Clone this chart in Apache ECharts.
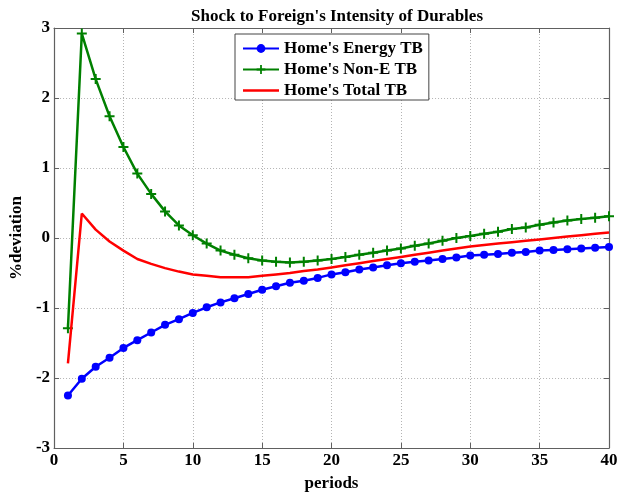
<!DOCTYPE html>
<html>
<head>
<meta charset="utf-8">
<script src="https://cdn.jsdelivr.net/npm/echarts@6/dist/echarts.min.js"></script>
<style>
  html, body { margin: 0; padding: 0; background: #fff; }
  #chart { width: 625px; height: 497px; }
</style>
</head>
<body>
<div id="chart"></div>
<script>
// Impulse responses, periods 1..40
const periods = Array.from({ length: 40 }, (_, i) => i + 1);

const energyTB = [
  -2.25, -2.01, -1.84, -1.71, -1.57, -1.46, -1.35, -1.24, -1.16, -1.07,
  -0.99, -0.92, -0.86, -0.80, -0.74, -0.69, -0.64, -0.61, -0.57, -0.52,
  -0.49, -0.45, -0.42, -0.39, -0.36, -0.34, -0.32, -0.30, -0.28, -0.25,
  -0.24, -0.23, -0.21, -0.20, -0.18, -0.17, -0.16, -0.15, -0.14, -0.13
];

const nonEnergyTB = [
  -1.29, 2.92, 2.27, 1.74, 1.30, 0.92, 0.63, 0.38, 0.18, 0.04,
  -0.08, -0.18, -0.24, -0.29, -0.32, -0.34, -0.35, -0.34, -0.32, -0.30,
  -0.27, -0.24, -0.21, -0.18, -0.15, -0.11, -0.08, -0.04, 0.00, 0.03,
  0.06, 0.09, 0.13, 0.15, 0.19, 0.22, 0.25, 0.27, 0.29, 0.31
];

const totalTB = [
  -1.79, 0.35, 0.12, -0.05, -0.18, -0.30, -0.37, -0.43, -0.48, -0.52,
  -0.54, -0.56, -0.56, -0.56, -0.54, -0.52, -0.50, -0.47, -0.45, -0.42,
  -0.39, -0.36, -0.33, -0.30, -0.27, -0.24, -0.21, -0.18, -0.15, -0.12,
  -0.10, -0.08, -0.06, -0.04, -0.02, 0.00, 0.02, 0.04, 0.06, 0.08
];

const seriesNames = ["Home's Energy TB", "Home's Non-E TB", "Home's Total TB"];

const serif = 'Liberation Serif, Times New Roman, serif';
// plus-shaped marker
const plusPath = 'path://M4,0H6V4H10V6H6V10H4V6H0V4H4Z';
// plain line legend icon (thin slivers at top/bottom keep the band centred)
const lineIcon = 'path://M0,0H36V0.01H0Z M0,4.3H36V6.7H0Z M0,10.99H36V11H0Z';

const pairs = vals => periods.map((p, i) => [p, vals[i]]);

const gridLine = { show: true, lineStyle: { color: '#b4b4b4', type: [1, 2], width: 1 } };
const axisLineStyle = { show: true, onZero: false, lineStyle: { color: '#606060', width: 1.2 } };
const tickStyle = { show: true, inside: true, length: 5, lineStyle: { color: '#606060' } };
const labelFont = { fontFamily: serif, fontWeight: 'bold', fontSize: 17, color: '#000' };

const chart = echarts.init(document.getElementById('chart'), null, { renderer: 'canvas' });

chart.setOption({
  backgroundColor: '#fff',
  animation: false,
  title: {
    text: "Shock to Foreign's Intensity of Durables",
    left: 332, top: 3, textAlign: 'center',
    textStyle: { fontFamily: serif, fontWeight: 'bold', fontSize: 17, color: '#000' }
  },
  legend: {
    data: [
      { name: seriesNames[0] },
      { name: seriesNames[1] },
      { name: seriesNames[2], icon: lineIcon }
    ],
    orient: 'vertical',
    left: 235, top: 34,
    padding: [6, 6, 1, 7],
    itemGap: 4,
    itemWidth: 36, itemHeight: 11,
    backgroundColor: '#fff',
    borderColor: '#444', borderWidth: 1,
    textStyle: { fontFamily: serif, fontWeight: 'bold', fontSize: 17, color: '#000', padding: [0, 0, 0, 0] }
  },
  grid: { left: 54, right: 16, top: 28, bottom: 46 },
  xAxis: [
    {
      type: 'value', min: 0, max: 40, interval: 5, position: 'bottom',
      name: 'periods', nameLocation: 'middle', nameGap: 27,
      nameTextStyle: labelFont,
      axisLine: axisLineStyle,
      axisTick: tickStyle,
      axisLabel: Object.assign({ margin: 4 }, labelFont),
      splitLine: gridLine
    },
    {
      type: 'value', min: 0, max: 40, interval: 5, position: 'top',
      axisLine: axisLineStyle,
      axisTick: tickStyle,
      axisLabel: { show: false },
      splitLine: { show: false }
    }
  ],
  yAxis: [
    {
      type: 'value', min: -3, max: 3, interval: 1, position: 'left',
      name: '%deviation', nameLocation: 'middle', nameGap: 25,
      nameTextStyle: labelFont,
      axisLine: axisLineStyle,
      axisTick: tickStyle,
      axisLabel: Object.assign({ margin: 4 }, labelFont),
      splitLine: gridLine
    },
    {
      type: 'value', min: -3, max: 3, interval: 1, position: 'right',
      axisLine: axisLineStyle,
      axisTick: tickStyle,
      axisLabel: { show: false },
      splitLine: { show: false }
    }
  ],
  series: [
    {
      name: seriesNames[0], type: 'line', data: pairs(energyTB),
      xAxisIndex: 0, yAxisIndex: 0,
      color: '#0000ff',
      symbol: 'circle', symbolSize: 8, showSymbol: true,
      lineStyle: { width: 2.5, color: '#0000ff' },
      itemStyle: { color: '#0000ff' },
      z: 3
    },
    {
      name: seriesNames[1], type: 'line', data: pairs(nonEnergyTB),
      xAxisIndex: 0, yAxisIndex: 0,
      color: '#008000',
      symbol: plusPath, symbolSize: 10, showSymbol: true,
      lineStyle: { width: 2.5, color: '#008000' },
      itemStyle: { color: '#008000' },
      z: 2
    },
    {
      name: seriesNames[2], type: 'line', data: pairs(totalTB),
      xAxisIndex: 0, yAxisIndex: 0,
      color: '#ff0000',
      symbol: 'none',
      lineStyle: { width: 2.5, color: '#ff0000' },
      itemStyle: { color: '#ff0000' },
      z: 4
    }
  ]
});
</script>
</body>
</html>
